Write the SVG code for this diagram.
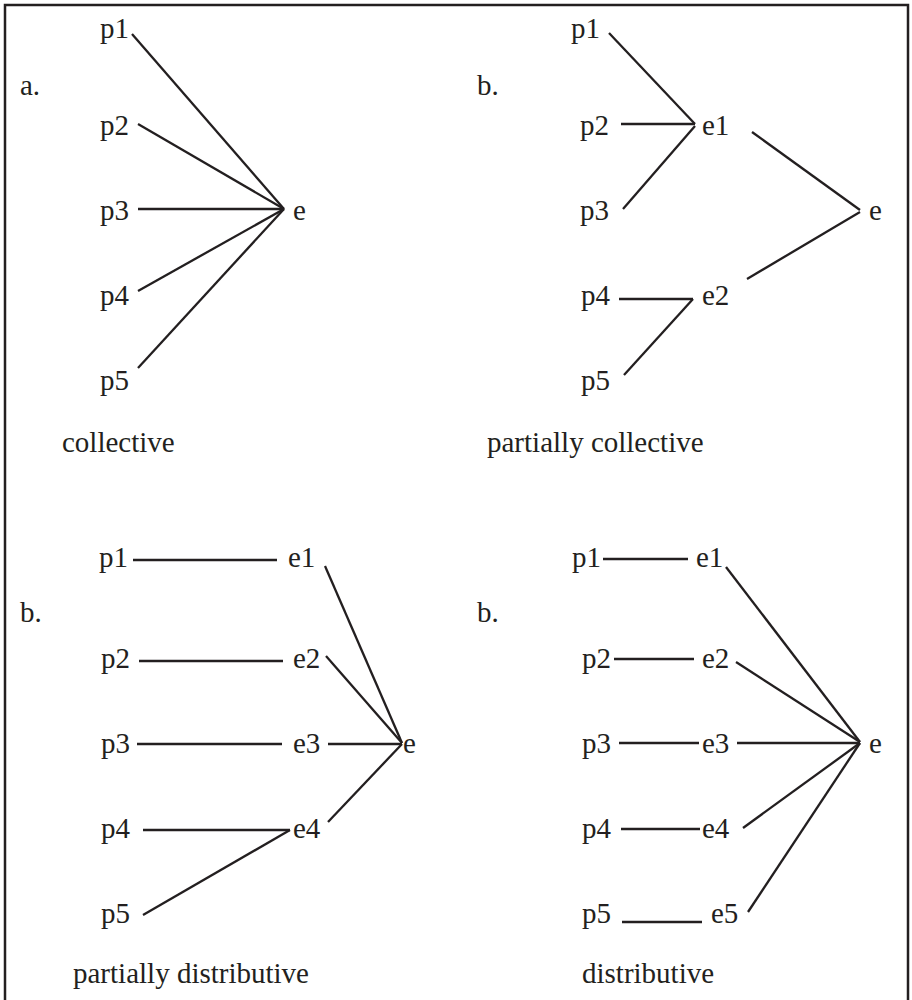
<svg xmlns="http://www.w3.org/2000/svg" width="912" height="1000" viewBox="0 0 912 1000" font-family="'Liberation Serif', 'Times New Roman', 'DejaVu Serif', serif">
<style>
text{font-family:'Liberation Serif','Times New Roman','DejaVu Serif',serif;font-size:29px;fill:#231f20}
.ln line{stroke:#231f20;stroke-width:2.3;stroke-linecap:butt}
</style>
<rect x="0" y="0" width="912" height="1000" fill="#fff"/>
<rect x="5" y="5" width="903" height="1010" fill="none" stroke="#231f20" stroke-width="2.5"/>
<g id="panel-a">
<text x="20" y="95">a.</text>
<g id="a-p1"><text x="100" y="38">p1</text></g>
<g id="a-p2"><text x="100" y="135">p2</text></g>
<g id="a-p3"><text x="100" y="220">p3</text></g>
<g id="a-p4"><text x="100" y="305">p4</text></g>
<g id="a-p5"><text x="100" y="390">p5</text></g>
<g id="a-e"><text x="293" y="220">e</text></g>
<text x="62" y="452">collective</text>
</g>
<g id="panel-b">
<text x="477" y="95">b.</text>
<g id="b-p1"><text x="571" y="38">p1</text></g>
<g id="b-p2"><text x="580" y="135">p2</text></g>
<g id="b-p3"><text x="580" y="220">p3</text></g>
<g id="b-p4"><text x="581" y="305">p4</text></g>
<g id="b-p5"><text x="581" y="390">p5</text></g>
<g id="b-e1"><text x="702" y="135">e1</text></g>
<g id="b-e2"><text x="702" y="305">e2</text></g>
<g id="b-e"><text x="869" y="220">e</text></g>
<text x="487" y="452">partially collective</text>
</g>
<g id="panel-c">
<text x="20" y="622">b.</text>
<g id="c-p1"><text x="99" y="567">p1</text></g>
<g id="c-p2"><text x="101" y="668">p2</text></g>
<g id="c-p3"><text x="101" y="753">p3</text></g>
<g id="c-p4"><text x="101" y="838">p4</text></g>
<g id="c-p5"><text x="101" y="923">p5</text></g>
<g id="c-e1"><text x="288" y="567">e1</text></g>
<g id="c-e2"><text x="293" y="668">e2</text></g>
<g id="c-e3"><text x="293" y="753">e3</text></g>
<g id="c-e4"><text x="293" y="838">e4</text></g>
<g id="c-e"><text x="403" y="753">e</text></g>
<text x="73" y="983">partially distributive</text>
</g>
<g id="panel-d">
<text x="477" y="622">b.</text>
<g id="d-p1"><text x="572" y="567">p1</text></g>
<g id="d-p2"><text x="582" y="668">p2</text></g>
<g id="d-p3"><text x="582" y="753">p3</text></g>
<g id="d-p4"><text x="582" y="838">p4</text></g>
<g id="d-p5"><text x="582" y="923">p5</text></g>
<g id="d-e1"><text x="696" y="567">e1</text></g>
<g id="d-e2"><text x="702" y="668">e2</text></g>
<g id="d-e3"><text x="702" y="753">e3</text></g>
<g id="d-e4"><text x="702" y="838">e4</text></g>
<g id="d-e5"><text x="711" y="923">e5</text></g>
<g id="d-e"><text x="869" y="753">e</text></g>
<text x="582" y="983">distributive</text>
</g>
<g id="connectors" class="ln">
<line x1="132" y1="34" x2="284" y2="209"/>
<line x1="138" y1="124" x2="284" y2="209"/>
<line x1="138" y1="209" x2="284" y2="209"/>
<line x1="138" y1="291" x2="284" y2="209"/>
<line x1="138" y1="368" x2="284" y2="209"/>

<line x1="609" y1="33" x2="695" y2="124"/>
<line x1="621" y1="124" x2="695" y2="124"/>
<line x1="623" y1="209" x2="695" y2="126"/>
<line x1="752" y1="132" x2="860" y2="210"/>
<line x1="619" y1="299" x2="693" y2="299"/>
<line x1="624" y1="375" x2="693" y2="299"/>
<line x1="747" y1="279" x2="860" y2="212"/>

<line x1="133" y1="560" x2="277" y2="560"/>
<line x1="139" y1="661" x2="283" y2="661"/>
<line x1="137" y1="744" x2="282" y2="744"/>
<line x1="143" y1="830" x2="290" y2="830"/>
<line x1="143" y1="915" x2="290" y2="830"/>
<line x1="325" y1="566" x2="402" y2="743"/>
<line x1="326" y1="656" x2="402" y2="743"/>
<line x1="328" y1="744" x2="402" y2="744"/>
<line x1="328" y1="822" x2="402" y2="744"/>

<line x1="603" y1="559" x2="688" y2="559"/>
<line x1="614" y1="659" x2="694" y2="659"/>
<line x1="619" y1="743" x2="699" y2="743"/>
<line x1="621" y1="829" x2="700" y2="829"/>
<line x1="622" y1="922" x2="702" y2="922"/>
<line x1="726" y1="567" x2="860" y2="742"/>
<line x1="736" y1="662" x2="860" y2="742"/>
<line x1="737" y1="743" x2="860" y2="743"/>
<line x1="743" y1="828" x2="860" y2="743"/>
<line x1="748" y1="912" x2="860" y2="743"/>
</g>
</svg>
